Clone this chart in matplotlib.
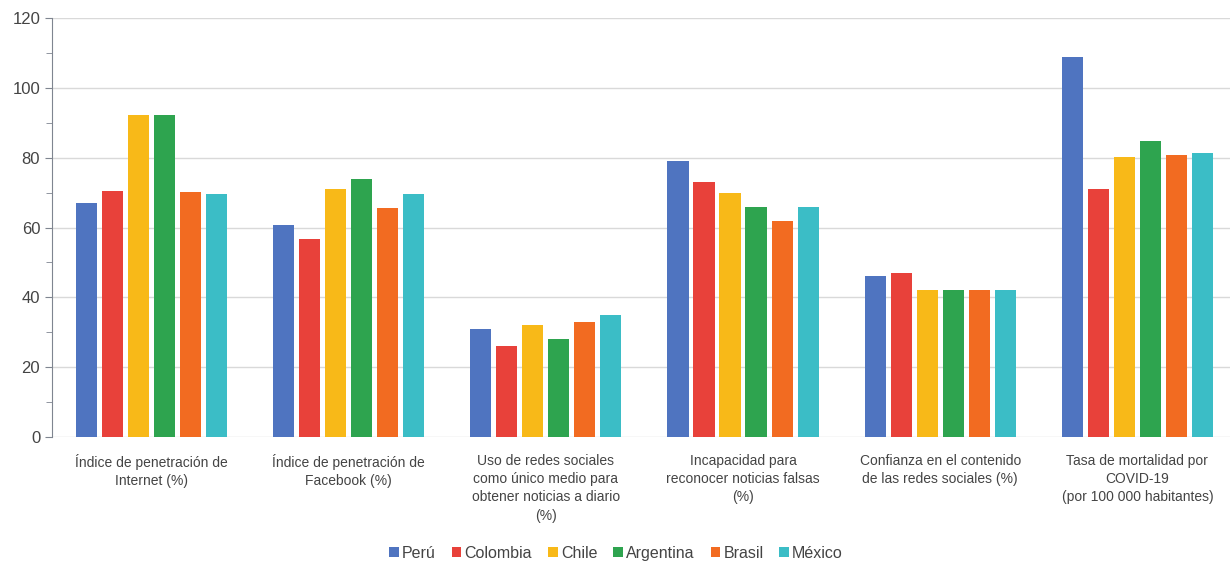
import numpy as np
import matplotlib
matplotlib.use("Agg")
import matplotlib.pyplot as plt
from matplotlib.ticker import MultipleLocator

plt.rcParams['font.family'] = ['Liberation Sans Narrow', 'Liberation Sans', 'DejaVu Sans']

# datos
categorias = ["Índice de penetración de\nInternet (%)",
              "Índice de penetración de\nFacebook (%)",
              "Uso de redes sociales\ncomo único medio para\nobtener noticias a diario\n(%)",
              "Incapacidad para\nreconocer noticias falsas\n(%)",
              "Confianza en el contenido\nde las redes sociales (%)",
              "Tasa de mortalidad por\nCOVID-19\n(por 100 000 habitantes)"]
paises = ["Perú", "Colombia", "Chile", "Argentina", "Brasil", "México"]
peru = [67, 60.7, 31, 79, 46, 108.9]
colombia = [70.5, 56.7, 26, 73, 47, 71]
chile = [92.3, 71, 32, 70, 42, 80.2]
argentina = [92.3, 74, 28, 66, 42, 84.8]
brasil = [70.2, 65.7, 33, 62, 42, 80.8]
mexico = [69.6, 69.7, 35, 66, 42, 81.4]
series = [peru, colombia, chile, argentina, brasil, mexico]
colores = ["#4f74c0", "#e8413a", "#f8b918", "#2ea44f", "#f26b21", "#3bbdc6"]

fig = plt.figure(figsize=(12.3, 5.63), dpi=100)
ax = fig.add_axes([52/1230, 126/563, 1 - 52/1230, 419/563])

x = np.arange(len(categorias))
w = 0.107
paso = 0.132
for i, (vals, c, p) in enumerate(zip(series, colores, paises)):
    ax.bar(x + (i - 2.5) * paso, vals, w, color=c, label=p, zorder=3)

ax.set_ylim(0, 120)
ax.set_xlim(-0.505, 5.47)
ax.yaxis.set_major_locator(MultipleLocator(20))
ax.yaxis.set_minor_locator(MultipleLocator(10))
ax.grid(axis='y', color='#d9d9d9', linewidth=1, zorder=0)
for s in ['top', 'right', 'bottom']:
    ax.spines[s].set_visible(False)
ax.spines['left'].set_color('#7f8590')
ax.tick_params(axis='y', which='both', color='#7f8590', labelsize=12, labelcolor='#444444')
ax.tick_params(axis='y', which='major', length=5)
ax.tick_params(axis='y', which='minor', length=4)
ax.set_xticks(x)
ax.set_xticklabels(categorias, fontsize=10, color='#444444', linespacing=1.4)
ax.tick_params(axis='x', length=0, pad=12)

ax.legend(loc='lower center', bbox_to_anchor=(0.5 - 26/1230, -0.33), ncol=6, frameon=False,
          fontsize=11.5, handlelength=0.6, handleheight=0.6, handletextpad=0.2,
          columnspacing=1.0, labelcolor='#444444')

fig.savefig("out.png", dpi=100)
